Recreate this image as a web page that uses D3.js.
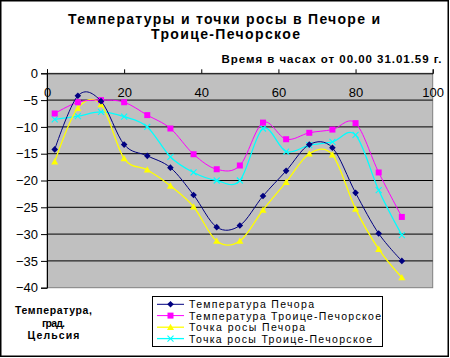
<!DOCTYPE html>
<html><head><meta charset="utf-8">
<script src="https://cdn.jsdelivr.net/npm/d3@7"></script>
<style>body{margin:0;background:#fff}svg{display:block}text{font-family:"Liberation Sans",Arial,sans-serif}</style>
</head><body>
<script>
const hours = [2, 8, 14, 20, 26, 32, 38, 44, 50, 56, 62, 68, 74, 80, 86, 92];
const tempPechora = [-14.2, -4.2, -5.2, -13.3, -15.4, -17.6, -22.7, -28.7, -28.4, -22.9, -18.2, -13.3, -13.9, -22.3, -29.9, -35.0];
const tempTroitse = [-7.5, -5.4, -5.0, -5.4, -7.8, -10.3, -15.1, -17.9, -17.2, -9.2, -12.3, -11.1, -10.5, -9.3, -18.5, -26.8];
const dewPechora = [-16.5, -6.5, -5.8, -15.9, -18.0, -21.0, -24.9, -31.3, -31.3, -25.5, -20.3, -15.0, -15.2, -25.3, -32.8, -38.1];
const dewTroitse = [-8.6, -8.0, -7.2, -8.1, -10.0, -15.6, -18.5, -20.0, -20.0, -10.3, -14.6, -13.4, -12.8, -11.5, -21.8, -30.2];
const xTicks = [0, 20, 40, 60, 80, 100];
const yTicks = [0, -5, -10, -15, -20, -25, -30, -35, -40];
const seriesNames = ["Температура Печора", "Температура Троице-Печорское", "Точка росы Печора", "Точка росы Троице-Печорское"];
const titleLines = ["Температуры и точки росы в Печоре и", "Троице-Печорское"];
const subtitle = "Время в часах от 00.00 31.01.59 г.";
const yLabelLines = ["Температура,", "град.", "Цельсия"];

const W = 450, H = 358;
const svg = d3.select("body").append("svg").attr("width", W).attr("height", H);
svg.append("rect").attr("x", 0.75).attr("y", 0.75).attr("width", W - 2.5).attr("height", H - 2.5)
  .attr("fill", "#fff").attr("stroke", "#000").attr("stroke-width", 1.5);

const x = d3.scaleLinear().domain([0, 100]).range([47, 432.7]);
const y = d3.scaleLinear().domain([0, -40]).range([73.3, 287.7]);

svg.append("rect").attr("x", x(0)).attr("y", y(0)).attr("width", x(100) - x(0)).attr("height", y(-40) - y(0))
  .attr("fill", "#c0c0c0").attr("stroke", "#808080").attr("stroke-width", 1);

svg.append("g").selectAll("line").data(yTicks.filter(d => d !== 0 && d !== -40)).join("line")
  .attr("x1", x(0)).attr("x2", x(100)).attr("y1", d => y(d)).attr("y2", d => y(d))
  .attr("stroke", "#000").attr("stroke-width", 1);

const yAxis = svg.append("g").attr("transform", `translate(${x(0)},0)`)
  .call(d3.axisLeft(y).tickValues(yTicks).tickSize(6).tickPadding(3).tickFormat(d3.format("d")));
yAxis.select(".domain").attr("stroke", "#000");
yAxis.selectAll("text").attr("font-size", 13).attr("fill", "#000").style("font-family", "'Liberation Sans',Arial,sans-serif");

const xAxis = svg.append("g").attr("transform", `translate(0,${y(0)})`)
  .call(d3.axisTop(x).tickValues(xTicks).tickSize(4).tickFormat(d3.format("d")));
xAxis.select(".domain").attr("stroke", "#000");
xAxis.selectAll("text").attr("y", 24).attr("dy", 0).attr("font-size", 13).attr("fill", "#000")
  .style("font-family", "'Liberation Sans',Arial,sans-serif");

const line = d3.line().x((d, i) => x(hours[i])).y(d => y(d)).curve(d3.curveCatmullRom.alpha(0));

const series = [
  {vals: tempPechora, color: "#000080", w: 1, marker: "diamond"},
  {vals: tempTroitse, color: "#ff00ff", w: 1, marker: "square"},
  {vals: dewPechora, color: "#ffff00", w: 1.3, marker: "triangle"},
  {vals: dewTroitse, color: "#00ffff", w: 1.3, marker: "cross"}
];

function drawMarker(g, type, cx, cy, color) {
  if (type === "diamond") {
    g.append("path").attr("d", `M${cx},${cy - 3.3}L${cx + 3.3},${cy}L${cx},${cy + 3.3}L${cx - 3.3},${cy}Z`).attr("fill", color);
  } else if (type === "square") {
    g.append("rect").attr("x", cx - 3).attr("y", cy - 3).attr("width", 6).attr("height", 6).attr("fill", color);
  } else if (type === "triangle") {
    g.append("path").attr("d", `M${cx},${cy - 3.5}L${cx + 3.5},${cy + 2.8}L${cx - 3.5},${cy + 2.8}Z`).attr("fill", color);
  } else {
    g.append("path").attr("d", `M${cx - 3},${cy - 3}L${cx + 3},${cy + 3}M${cx - 3},${cy + 3}L${cx + 3},${cy - 3}`)
      .attr("stroke", color).attr("stroke-width", 1.1).attr("fill", "none");
  }
}

[3, 2, 1, 0].forEach(k => {
  const s = series[k];
  const g = svg.append("g");
  g.append("path").datum(s.vals).attr("d", line).attr("fill", "none").attr("stroke", s.color).attr("stroke-width", s.w);
  s.vals.forEach((v, i) => drawMarker(g, s.marker, x(hours[i]), y(v), s.color));
});

svg.append("text").attr("x", 224).attr("y", 23.5).attr("text-anchor", "middle").attr("font-size", 14).attr("font-weight", "bold")
  .attr("textLength", 312).attr("lengthAdjust", "spacing").text(titleLines[0]);
svg.append("text").attr("x", 225.5).attr("y", 39).attr("text-anchor", "middle").attr("font-size", 14).attr("font-weight", "bold")
  .attr("textLength", 149).attr("lengthAdjust", "spacing").text(titleLines[1]);
svg.append("text").attr("x", 441.5).attr("y", 62.5).attr("text-anchor", "end").attr("font-size", 11.5).attr("font-weight", "bold")
  .attr("textLength", 220).attr("lengthAdjust", "spacing").text(subtitle);

const labelLens = [77, 23, 52];
[314, 327, 339].forEach((yy, i) => {
  svg.append("text").attr("x", 53.5).attr("y", yy).attr("text-anchor", "middle").attr("font-size", 10.5).attr("font-weight", "bold")
    .attr("textLength", labelLens[i]).attr("lengthAdjust", "spacing").text(yLabelLines[i]);
});

const lg = svg.append("g");
lg.append("rect").attr("x", 152.5).attr("y", 296.5).attr("width", 230).attr("height", 50).attr("fill", "#fff").attr("stroke", "#000").attr("stroke-width", 1);
const rowY = [304.3, 315.6, 327.2, 338.6];
const legendLens = [125, 192, 116, 183];
series.forEach((s, i) => {
  const yy = rowY[i];
  lg.append("line").attr("x1", 157).attr("x2", 184).attr("y1", yy).attr("y2", yy).attr("stroke", s.color).attr("stroke-width", s.w);
  drawMarker(lg, s.marker, 170.5, yy, s.color);
  lg.append("text").attr("x", 189).attr("y", yy + 3.9).attr("font-size", 10.5).attr("textLength", legendLens[i])
    .attr("lengthAdjust", "spacing").text(seriesNames[i]);
});
</script>
</body></html>
